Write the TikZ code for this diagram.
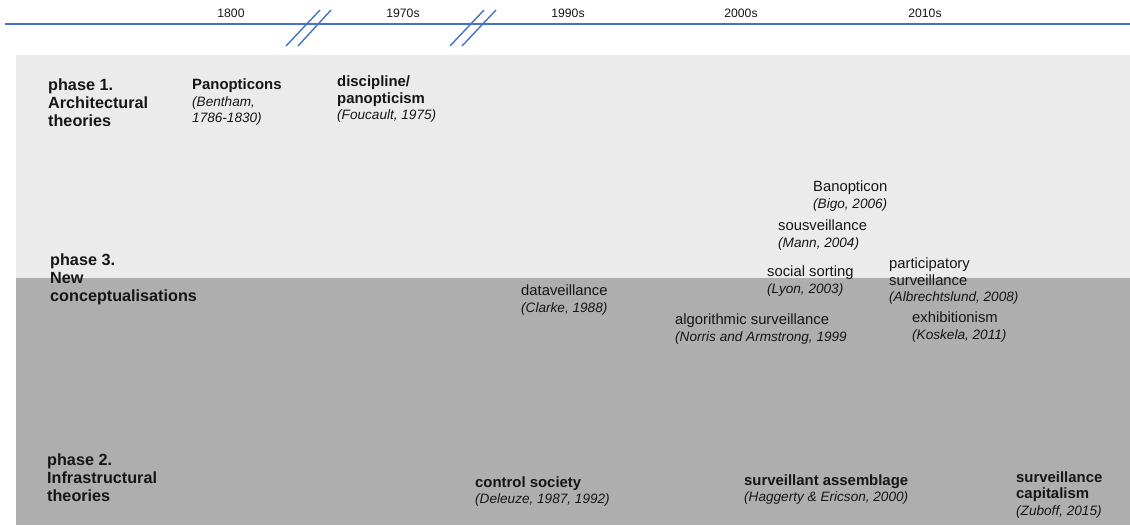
\documentclass[tikz,border=0pt]{standalone}
\usepackage{fontspec}
\setmainfont{Liberation Sans}
\usetikzlibrary{positioning}
\definecolor{timeblue}{RGB}{68,114,196}
\definecolor{lightband}{RGB}{235,235,235}
\definecolor{darkband}{RGB}{174,174,174}
\definecolor{inkgray}{RGB}{22,22,22}
\newcommand{\src}[1]{{\normalfont\fontsize{13.6}{15.5}\selectfont\itshape #1}}
\tikzset{
    concept/.style={anchor=north west, inner sep=0pt, align=left, text=inkgray,
        font=\fontsize{14.8}{16.5}\selectfont},
    theory/.style={concept, font=\fontsize{14.9}{16.5}\selectfont\bfseries},
    phase/.style={concept, font=\fontsize{16.2}{17.8}\selectfont\bfseries},
    decade/.style={anchor=base, inner sep=0pt, text=inkgray, font=\fontsize{12.2}{14}\selectfont},
    timebreak/.style={timeblue, line width=1.4pt},
}

\begin{document}
\begin{tikzpicture}[x=1pt, y=-1pt]
\useasboundingbox (0,0) rectangle (1130,525);
\fill[lightband] (16,55) rectangle (1130,278);
\fill[darkband] (16,278) rectangle (1130,525);

\draw[timeblue, line width=1.6pt] (5,24) -- (1130,24);
\draw[timebreak] (286,46) -- (320,10);
\draw[timebreak] (298,46) -- (331,10);
\draw[timebreak] (450,46) -- (484,10);
\draw[timebreak] (462,46) -- (496,10);

\node[decade] (d1800) at (231,17) {1800};
\node[decade] (d1970) at (403,17) {1970s};
\node[decade] (d1990) at (568,17) {1990s};
\node[decade] (d2000) at (741,17) {2000s};
\node[decade] (d2010) at (925,17) {2010s};

\node[phase] (phaseone) at (48,79) {phase 1.\\Architectural\\theories};
\node[theory] (panopticons) at (192,79) {Panopticons\\\src{(Bentham,}\\\src{1786-1830)}};
\node[theory] (discipline) at (337,76) {discipline/\\panopticism\\\src{(Foucault, 1975)}};

\node[phase] (phasethree) at (50,254) {phase 3.\\New\\conceptualisations};
\node[concept] (dataveil) at (521,285) {dataveillance\\\src{(Clarke, 1988)}};
\node[concept] (banopticon) at (813,181) {Banopticon\\\src{(Bigo, 2006)}};
\node[concept] (sousveil) at (778,220) {sousveillance\\\src{(Mann, 2004)}};
\node[concept] (sorting) at (767,266) {social sorting\\\src{(Lyon, 2003)}};
\node[concept] (particip) at (889,258) {participatory\\surveillance\\\src{(Albrechtslund, 2008)}};
\node[concept] (algorithmic) at (675,314) {algorithmic surveillance\\\src{(Norris and Armstrong, 1999}};
\node[concept] (exhibition) at (912,312) {exhibitionism\\\src{(Koskela, 2011)}};

\node[phase] (phasetwo) at (47,454) {phase 2.\\Infrastructural\\theories};
\node[theory] (control) at (475,476) {control society\\\src{(Deleuze, 1987, 1992)}};
\node[theory] (assemblage) at (744,474) {surveillant assemblage\\\src{(Haggerty \& Ericson, 2000)}};
\node[theory] (capitalism) at (1016,471) {surveillance\\capitalism\\\src{(Zuboff, 2015)}};
\end{tikzpicture}
\end{document}
